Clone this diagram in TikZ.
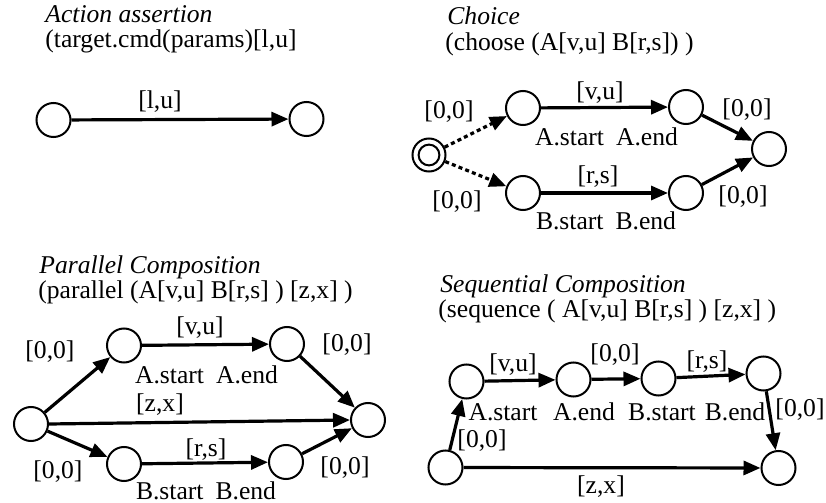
\documentclass[tikz,border=0pt]{standalone}
\usepackage{fontspec}
\setmainfont{Liberation Serif}
\usetikzlibrary{arrows.meta}
\begin{document}
\begin{tikzpicture}[x=0.5pt,y=-0.5pt,
  font=\fontsize{12.8pt}{15pt}\selectfont,
  state/.style={circle,draw,line width=1pt,minimum size=17pt,inner sep=0pt},
  flow/.style={line width=1.6pt,-{Triangle[length=8.5pt,width=7pt]}},
  optflow/.style={flow,dash pattern=on 2pt off 1.6pt},
  lbl/.style={anchor=base,inner sep=0pt},
  tag/.style={lbl,text depth=0pt},
  ttl/.style={anchor=base west,inner sep=0pt,font=\fontsize{12.8pt}{15pt}\selectfont\itshape},
  expr/.style={anchor=base west,inner sep=0pt}]
\useasboundingbox (0,0) rectangle (826,503);

% ---------------- Action assertion ----------------
\node[ttl]  (t1) at (45,23) {Action assertion};
\node[expr] (e1) at (45,47) {(target.cmd(params)[l,u]};
\node[state] (a1) at (53.5,120) {};
\node[state] (a2) at (306.5,119) {};
\draw[flow] (a1) -- (a2);
\node[lbl] (la) at (160,108) {[l,u]};

% ---------------- Choice ----------------
\node[ttl]  (t2) at (447,25) {Choice};
\node[expr] (e2) at (445,50) {(choose (A[v,u] B[r,s]) )};
\node[state,minimum size=16.5pt] (c0) at (429,155) {};
\draw[line width=1pt] (c0.center) circle[radius=5.2pt];
\node[state] (cas) at (523,108) {};
\node[state] (cae) at (686,107) {};
\node[state] (cbs) at (523,193) {};
\node[state] (cbe) at (686,193) {};
\node[state] (cend) at (769,149) {};
\draw[optflow] (c0) -- (cas);
\draw[optflow] (c0) -- (cbs);
\draw[flow] (cas) -- (cae);
\draw[flow] (cbs) -- (cbe);
\draw[flow] (cae) -- (cend);
\draw[flow] (cbe) -- (cend);
\node[lbl] (cl1) at (449,119) {[0,0]};
\node[lbl] (cl2) at (457,208) {[0,0]};
\node[lbl] (cl3) at (747,116) {[0,0]};
\node[lbl] (cl4) at (743,203) {[0,0]};
\node[lbl] (cl5) at (600,99) {[v,u]};
\node[lbl] (cl6) at (598,183) {[r,s]};
\node[tag] (cl7) at (606.5,145) {A.start\hspace{6pt}A.end};
\node[tag] (cl8) at (606,229) {B.start\hspace{6pt}B.end};

% ---------------- Parallel Composition ----------------
\node[ttl]  (t3) at (39,273) {Parallel Composition};
\node[expr] (e3) at (38,298) {(parallel (A[v,u] B[r,s] ) [z,x] )};
\node[state] (p0) at (31,424) {};
\node[state] (pas) at (124,345.5) {};
\node[state] (pae) at (287,344) {};
\node[state] (pbs) at (124,464) {};
\node[state] (pbe) at (286,462) {};
\node[state] (pend) at (368,420) {};
\draw[flow] (p0) -- (pas);
\draw[flow] (p0) -- (pbs);
\draw[flow] (p0.east) -- (pend.west);
\draw[flow] (pas) -- (pae);
\draw[flow] (pbs) -- (pbe);
\draw[flow] (pae) -- (pend);
\draw[flow] (pbe) -- (pend);
\node[lbl] (pl1) at (50,358) {[0,0]};
\node[lbl] (pl2) at (58,478) {[0,0]};
\node[lbl] (pl3) at (347,351) {[0,0]};
\node[lbl] (pl4) at (345,474) {[0,0]};
\node[lbl] (pl5) at (200,334) {[v,u]};
\node[lbl] (pl6) at (160,411) {[z,x]};
\node[lbl] (pl7) at (206,456) {[r,s]};
\node[tag] (pl8) at (206.5,383) {A.start\hspace{6pt}A.end};
\node[tag] (pl9) at (206,499) {B.start\hspace{6pt}B.end};

% ---------------- Sequential Composition ----------------
\node[ttl]  (t4) at (440,292) {Sequential Composition};
\node[expr] (e4) at (438,317) {(sequence ( A[v,u] B[r,s] ) [z,x] )};
\node[state] (s0) at (445.5,467.5) {};
\node[state] (sas) at (466.5,381.5) {};
\node[state] (sae) at (573.5,379.5) {};
\node[state] (sbs) at (658.5,378.5) {};
\node[state] (sbe) at (763.5,373.5) {};
\node[state] (send) at (778.5,468) {};
\draw[flow] (s0) -- (sas);
\draw[flow] (sas) -- (sae);
\draw[flow] (sae) -- (sbs);
\draw[flow] (sbs) -- (sbe);
\draw[flow] (sbe) -- (send);
\draw[flow] (s0) -- (send);
\node[lbl] (sl1) at (513,371) {[v,u]};
\node[lbl] (sl2) at (615,361) {[0,0]};
\node[lbl] (sl3) at (707,368) {[r,s]};
\node[lbl] (sl4) at (800,416) {[0,0]};
\node[lbl] (sl5) at (482,447) {[0,0]};
\node[lbl] (sl6) at (601,493) {[z,x]};
\node[tag] (sl7) at (503,420) {A.start};
\node[tag] (sl8) at (584,420) {A.end};
\node[tag] (sl9) at (662,420) {B.start};
\node[tag] (sl10) at (735,420) {B.end};
\end{tikzpicture}
\end{document}
